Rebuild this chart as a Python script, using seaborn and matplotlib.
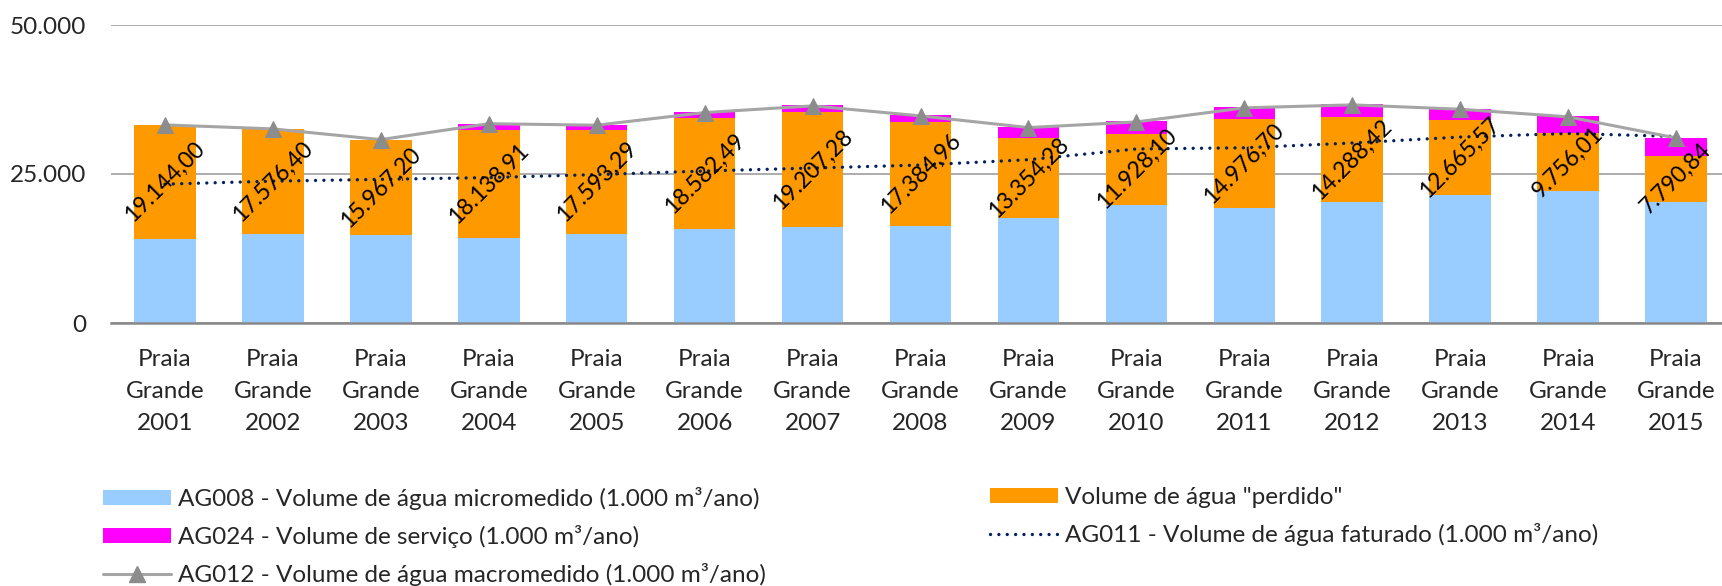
import numpy as np
import pandas as pd
import matplotlib
matplotlib.use("Agg")
import matplotlib.pyplot as plt
import seaborn as sns
from matplotlib.patches import Patch
from matplotlib.lines import Line2D

years = [2001, 2002, 2003, 2004, 2005, 2006, 2007, 2008,
         2009, 2010, 2011, 2012, 2013, 2014, 2015]
categories = [f"Praia\nGrande\n{y}" for y in years]

# AG008 - micromedido
micromedido = [14100, 14990, 14810, 14300, 14850, 15750, 16180, 16330,
               17650, 19850, 19250, 20300, 21450, 22100, 20300]
# volume "perdido" (rotulado)
perdido = [19144.00, 17576.40, 15967.20, 18138.91, 17593.29, 18582.49, 19207.28, 17384.96,
           13354.28, 11928.10, 14976.70, 14288.42, 12665.57, 9756.01, 7790.84]
# AG024 - servico
servico = [0, 0, 0, 1000, 750, 1060, 1120, 1120,
           1900, 2070, 2020, 2190, 1850, 2800, 3000]
# AG011 - faturado
faturado = [23300, 23800, 24100, 24400, 24900, 25500, 26000, 26500,
            27400, 29200, 29400, 30200, 31200, 31800, 31300]
# AG012 - macromedido
macromedido = [33240, 32570, 30770, 33440, 33190, 35310, 36430, 34750,
               32790, 33740, 36100, 36600, 35870, 34590, 31050]

yticks = [0, 25000, 50000]
ytick_labels = ["0", "25.000", "50.000"]

c_micro = "#99CCFF"
c_perd = "#FF9900"
c_serv = "#FF00FF"
c_fat = "#002060"
c_macro = "#A5A5A5"
c_tri = "#8C8C8C"

sns.set_style("white")
plt.rcParams["font.family"] = ["Lato", "DejaVu Sans"]
FS = 17.5

df = pd.DataFrame({"cat": categories, "micro": micromedido, "perd": perdido, "serv": servico})
df["base2"] = df["micro"] + df["perd"]

fig = plt.figure(figsize=(17.22, 5.86), dpi=100)
ax = fig.add_axes([111 / 1722, 263 / 586, 1619 / 1722, 298 / 586])

bw = 0.57
sns.barplot(data=df, x="cat", y="micro", color=c_micro, saturation=1, width=bw, linewidth=0, ax=ax)
sns.barplot(data=df, x="cat", y="perd", bottom=df["micro"], color=c_perd, saturation=1, width=bw, linewidth=0, ax=ax)
sns.barplot(data=df, x="cat", y="serv", bottom=df["base2"], color=c_serv, saturation=1, width=bw, linewidth=0, ax=ax)

pos = np.arange(len(years))
sns.lineplot(x=pos, y=faturado, color=c_fat, lw=2.4, ax=ax,
             linestyle=(0, (0.01, 2.5)), dash_capstyle="round")
sns.lineplot(x=pos, y=macromedido, color=c_macro, lw=2.2, ax=ax,
             marker="^", markersize=12, markerfacecolor=c_tri, markeredgecolor=c_tri)

for i in range(len(years)):
    s = f"{perdido[i]:,.2f}".replace(",", "X").replace(".", ",").replace("X", ".")
    ax.text(i, micromedido[i] + perdido[i] / 2, s, rotation=45, rotation_mode="anchor",
            ha="center", va="center", fontsize=16.5, color="black", zorder=10)

ax.set_xlim(-0.5, 14.5)
ax.set_ylim(0, 50000)
ax.set_yticks(yticks)
ax.set_yticklabels(ytick_labels)
ax.set_xlabel("")
ax.set_ylabel("")
ax.yaxis.grid(True, color="#A6A6A6", lw=1.3)
ax.set_axisbelow(True)
for sp in ["top", "right", "left"]:
    ax.spines[sp].set_visible(False)
ax.spines["bottom"].set_color("#888888")
ax.spines["bottom"].set_linewidth(1.8)
ax.spines["bottom"].set_zorder(5)
ax.tick_params(axis="y", length=0, pad=18, labelsize=FS)
ax.tick_params(axis="x", length=0, pad=19, labelsize=FS)
for t in ax.get_xticklabels():
    t.set_linespacing(1.64)

h1 = [Patch(facecolor=c_micro, edgecolor="none"),
      Patch(facecolor=c_serv, edgecolor="none"),
      Line2D([], [], color=c_macro, lw=2.2, marker="^", markersize=12,
             markerfacecolor=c_tri, markeredgecolor=c_tri)]
l1 = ["AG008 - Volume de água micromedido (1.000 m³/ano)",
      "AG024 - Volume de serviço (1.000 m³/ano)",
      "AG012 - Volume de água macromedido (1.000 m³/ano)"]
h2 = [Patch(facecolor=c_perd, edgecolor="none"),
      Line2D([], [], color=c_fat, lw=2.4, linestyle=(0, (0.01, 2.5)), dash_capstyle="round")]
l2 = ["Volume de água \"perdido\"",
      "AG011 - Volume de água faturado (1.000 m³/ano)"]

kw = dict(loc="upper left", frameon=False, fontsize=FS, borderpad=0, borderaxespad=0,
          handlelength=2.8, handleheight=0.62, handletextpad=0.3, labelspacing=0.62)
leg1 = fig.legend(h1, l1, bbox_to_anchor=(103 / 1722, 1 - 487 / 586), **kw)
leg2 = fig.legend(h2, l2, bbox_to_anchor=(990 / 1722, 1 - 487 / 586), **kw)

fig.savefig("out.png", dpi=100)
